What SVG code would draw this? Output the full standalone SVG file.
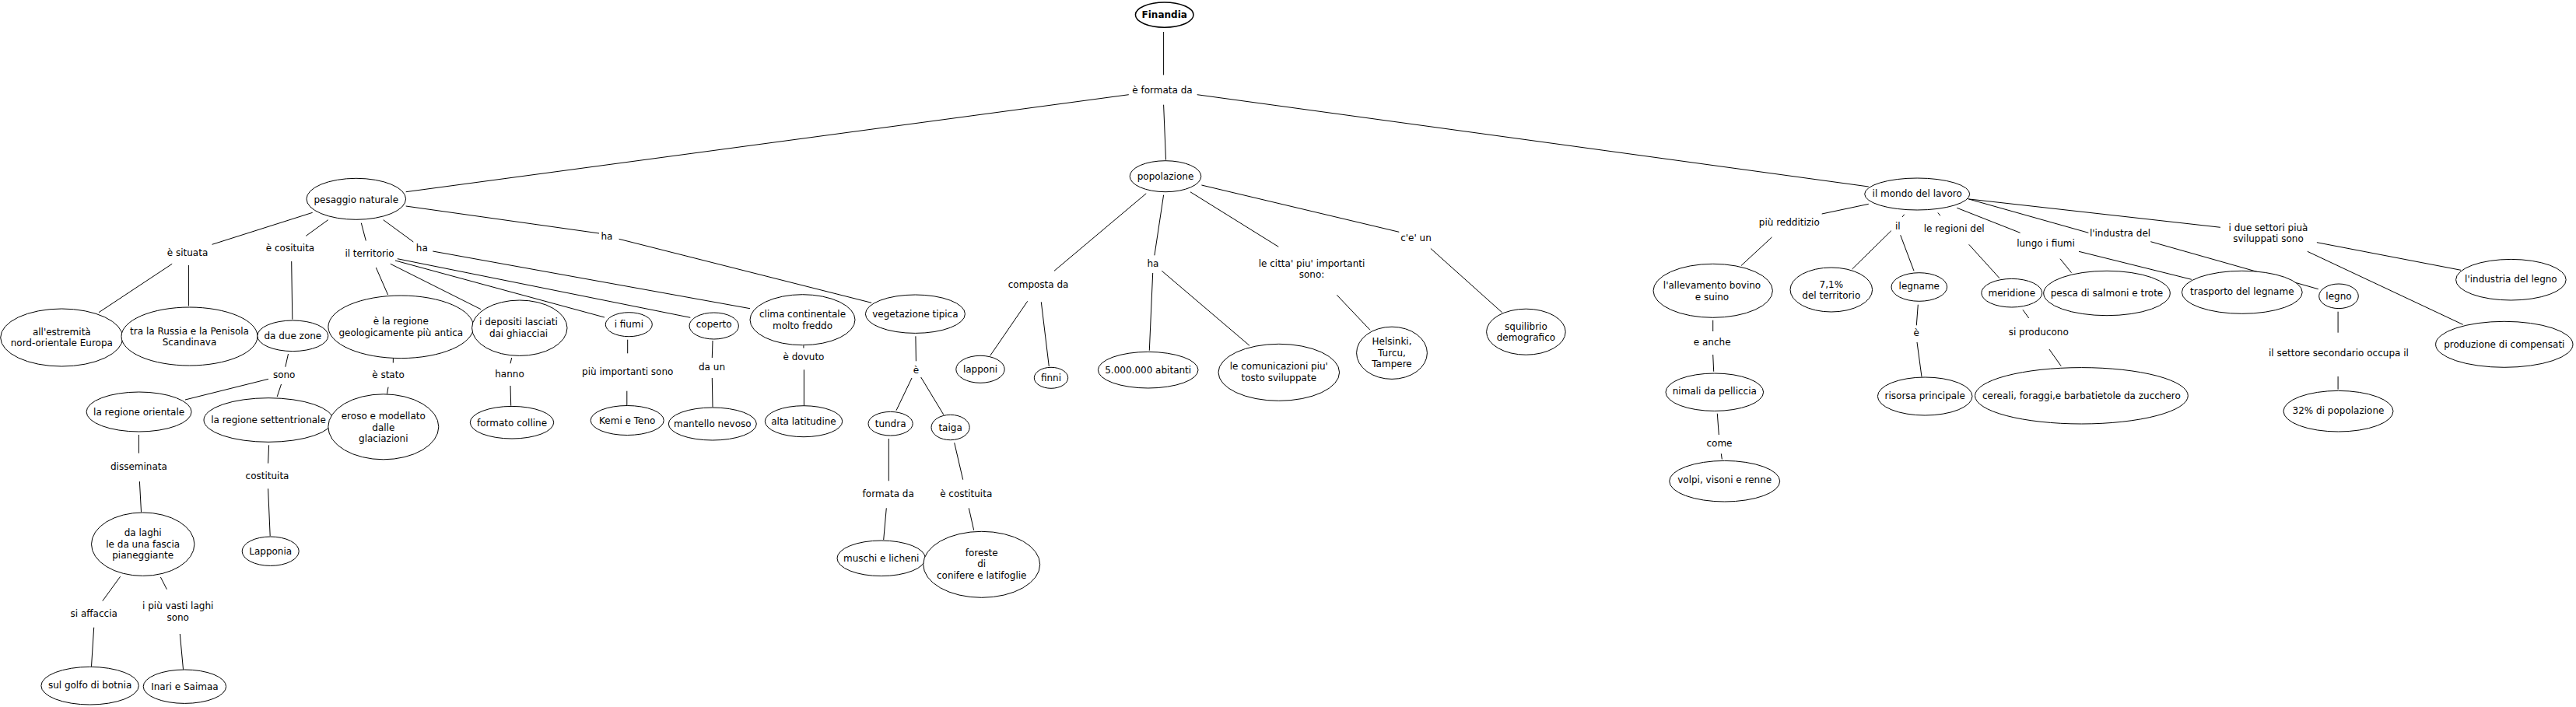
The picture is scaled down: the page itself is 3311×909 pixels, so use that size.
<svg xmlns="http://www.w3.org/2000/svg" width="3311" height="909" viewBox="0 0 3311 909">
<style>
text{font-family:"DejaVu Sans",Verdana,sans-serif;font-size:12px;fill:#000;text-anchor:middle}
.n ellipse{fill:#fff;stroke:#000;stroke-width:1}
#c line{stroke:#000;stroke-width:1;fill:none}
.b{font-weight:bold}
</style>
<rect width="3311" height="909" fill="#fff"/>
<g id="c">
<line x1="1495.6" y1="41" x2="1495.6" y2="96.4"/>
<line x1="1450.8" y1="121.7" x2="521.7" y2="246.7"/>
<line x1="1495.6" y1="134.7" x2="1498.5" y2="205.5"/>
<line x1="1538.7" y1="121.7" x2="2401.8" y2="240"/>
<line x1="401.7" y1="273.3" x2="272.6" y2="314.3"/>
<line x1="421.7" y1="282.7" x2="393.3" y2="303.3"/>
<line x1="464.3" y1="286.7" x2="470.3" y2="309.5"/>
<line x1="492.7" y1="282.7" x2="531.3" y2="311"/>
<line x1="521.7" y1="265" x2="770" y2="300"/>
<line x1="221.2" y1="339.3" x2="127" y2="401.7"/>
<line x1="242.4" y1="341" x2="242.4" y2="393.3"/>
<line x1="374.7" y1="336" x2="375.8" y2="410.7"/>
<line x1="483.3" y1="344" x2="498.6" y2="379"/>
<line x1="501.8" y1="339.3" x2="618.2" y2="397.7"/>
<line x1="508" y1="335" x2="777" y2="408"/>
<line x1="510.8" y1="332.7" x2="887.3" y2="408.3"/>
<line x1="556.3" y1="323" x2="964" y2="396.7"/>
<line x1="795.6" y1="307.3" x2="1120.2" y2="389.3"/>
<line x1="370.5" y1="455" x2="366.8" y2="471.7"/>
<line x1="345" y1="487.3" x2="238" y2="514"/>
<line x1="361.5" y1="494" x2="356.2" y2="510"/>
<line x1="505.4" y1="461" x2="505.3" y2="466.5"/>
<line x1="499" y1="497.7" x2="497.5" y2="506.7"/>
<line x1="657.7" y1="460" x2="656" y2="467.3"/>
<line x1="656" y1="496" x2="656.7" y2="521.7"/>
<line x1="806.7" y1="436.7" x2="806.7" y2="454.3"/>
<line x1="805.8" y1="502.7" x2="805.8" y2="521"/>
<line x1="916" y1="438" x2="915.3" y2="460"/>
<line x1="915.3" y1="486" x2="916" y2="523.5"/>
<line x1="1032.9" y1="444.3" x2="1032.9" y2="447.5"/>
<line x1="1033.4" y1="475.3" x2="1033.4" y2="521.5"/>
<line x1="1176.9" y1="432.3" x2="1177.4" y2="464.3"/>
<line x1="1172" y1="486" x2="1152" y2="527.7"/>
<line x1="1183.7" y1="485" x2="1212.9" y2="533.3"/>
<line x1="1142.3" y1="564" x2="1142.3" y2="618.3"/>
<line x1="1226.7" y1="569.3" x2="1237.7" y2="616.7"/>
<line x1="1139.3" y1="653.3" x2="1135.7" y2="694"/>
<line x1="1245.3" y1="653.3" x2="1251.7" y2="681.7"/>
<line x1="178.4" y1="559" x2="178.4" y2="582.7"/>
<line x1="179.4" y1="619" x2="181.5" y2="658.3"/>
<line x1="345.6" y1="572.3" x2="344.6" y2="595.7"/>
<line x1="344.6" y1="628.3" x2="347.2" y2="689.3"/>
<line x1="154.6" y1="741.3" x2="131.8" y2="772.7"/>
<line x1="206.4" y1="742" x2="214.4" y2="757.7"/>
<line x1="120.7" y1="806.7" x2="117.5" y2="856.7"/>
<line x1="231.3" y1="815" x2="235.5" y2="860.7"/>
<line x1="1473.2" y1="248.8" x2="1355" y2="348.3"/>
<line x1="1495.6" y1="250.7" x2="1483.9" y2="328.3"/>
<line x1="1530" y1="246.8" x2="1643.3" y2="317.3"/>
<line x1="1544.4" y1="238" x2="1798.3" y2="298.3"/>
<line x1="1320.7" y1="387.3" x2="1272.7" y2="457.3"/>
<line x1="1338.3" y1="388.3" x2="1348.3" y2="471"/>
<line x1="1481.7" y1="351" x2="1477.3" y2="450.7"/>
<line x1="1493.3" y1="348.3" x2="1606" y2="444.3"/>
<line x1="1718.3" y1="379.3" x2="1761" y2="424.3"/>
<line x1="1838.9" y1="319.5" x2="1930.7" y2="401.8"/>
<line x1="2401.8" y1="262.3" x2="2341.7" y2="275"/>
<line x1="2277.4" y1="305" x2="2238" y2="341.5"/>
<line x1="2447.7" y1="275.7" x2="2445" y2="279"/>
<line x1="2430.8" y1="296.7" x2="2380.6" y2="346"/>
<line x1="2442.7" y1="302.3" x2="2460" y2="348.3"/>
<line x1="2490.9" y1="273.5" x2="2493.8" y2="277.3"/>
<line x1="2530.7" y1="314.3" x2="2570" y2="357.7"/>
<line x1="2515.3" y1="267.3" x2="2596.6" y2="299.3"/>
<line x1="2648" y1="332.7" x2="2662.5" y2="350.7"/>
<line x1="2672" y1="323.3" x2="2816.9" y2="359.3"/>
<line x1="2527" y1="255" x2="2684.4" y2="299.3"/>
<line x1="2764.3" y1="310.7" x2="2979.8" y2="371.7"/>
<line x1="2531.1" y1="256" x2="2853.9" y2="292.3"/>
<line x1="2977.9" y1="311.7" x2="3163" y2="347.3"/>
<line x1="2965.8" y1="323.3" x2="3165.7" y2="417.3"/>
<line x1="3005.1" y1="400.7" x2="3005.1" y2="427.7"/>
<line x1="3005.1" y1="484" x2="3005.1" y2="500.7"/>
<line x1="2201.7" y1="411.7" x2="2201.7" y2="426"/>
<line x1="2201.7" y1="456" x2="2202.7" y2="477.7"/>
<line x1="2207.3" y1="531.7" x2="2209.3" y2="559"/>
<line x1="2212.3" y1="583.3" x2="2213.3" y2="590.5"/>
<line x1="2465.3" y1="391.7" x2="2463.3" y2="418.3"/>
<line x1="2464" y1="440" x2="2470" y2="484.5"/>
<line x1="2600" y1="398.3" x2="2607.7" y2="409"/>
<line x1="2633.9" y1="449" x2="2649.2" y2="470.7"/>
</g>
<g id="finandia" class="n"><ellipse cx="1496.7" cy="19.1" rx="37.3" ry="16.1" style="stroke-width:1.5"/><text class="b" x="1496.7" y="23.3">Finandia</text></g>
<g id="pesaggio" class="n"><ellipse cx="457.8" cy="255.8" rx="63.8" ry="26.5"/><text x="457.8" y="260.7">pesaggio naturale</text></g>
<g id="estremita" class="n"><ellipse cx="79.3" cy="434" rx="78.6" ry="37"/><text x="79.3" y="430.7">all'estremità</text><text x="79.3" y="444.7">nord-orientale Europa</text></g>
<g id="russia" class="n"><ellipse cx="243.5" cy="432.5" rx="87.5" ry="37.5"/><text x="243.5" y="430">tra la Russia e la Penisola</text><text x="243.5" y="444">Scandinava</text></g>
<g id="duezone" class="n"><ellipse cx="376.3" cy="431.8" rx="45.5" ry="19.8"/><text x="376.3" y="435.8">da due zone</text></g>
<g id="regioneantica" class="n"><ellipse cx="515.3" cy="420.3" rx="93.4" ry="40.3"/><text x="515.3" y="417.3">è la regione</text><text x="515.3" y="432.3">geologicamente più antica</text></g>
<g id="depositi" class="n"><ellipse cx="667.8" cy="421.7" rx="61.2" ry="35.7"/><text x="666.5" y="418.3">i depositi lasciati</text><text x="666.5" y="433.3">dai ghiacciai</text></g>
<g id="fiumi" class="n"><ellipse cx="808.3" cy="417.2" rx="30" ry="15.5"/><text x="808.3" y="420.7">i fiumi</text></g>
<g id="coperto" class="n"><ellipse cx="917.7" cy="419" rx="31.7" ry="17"/><text x="917.7" y="421">coperto</text></g>
<g id="clima" class="n"><ellipse cx="1031.5" cy="411.2" rx="67.5" ry="32.5"/><text x="1031.5" y="408.3">clima continentale</text><text x="1031.5" y="423">molto freddo</text></g>
<g id="vegetazione" class="n"><ellipse cx="1176.4" cy="403.7" rx="64" ry="24.7"/><text x="1176.4" y="407.7">vegetazione tipica</text></g>
<g id="orientale" class="n"><ellipse cx="178.6" cy="529.5" rx="67.5" ry="25.5"/><text x="178.6" y="533.5">la regione orientale</text></g>
<g id="settentrionale" class="n"><ellipse cx="345" cy="540" rx="83" ry="28.3"/><text x="345" y="544">la regione settentrionale</text></g>
<g id="eroso" class="n"><ellipse cx="492.8" cy="548.8" rx="71" ry="42"/><text x="492.8" y="539">eroso e modellato</text><text x="492.8" y="554">dalle</text><text x="492.8" y="568.3">glaciazioni</text></g>
<g id="colline" class="n"><ellipse cx="658" cy="543.2" rx="53.7" ry="20.8"/><text x="658" y="547.5">formato colline</text></g>
<g id="kemi" class="n"><ellipse cx="806.2" cy="540.5" rx="47" ry="19"/><text x="806.2" y="545.3">Kemi e Teno</text></g>
<g id="mantello" class="n"><ellipse cx="915.8" cy="545" rx="56.5" ry="21"/><text x="915.8" y="548.7">mantello nevoso</text></g>
<g id="latitudine" class="n"><ellipse cx="1033" cy="541.7" rx="49.7" ry="20"/><text x="1033" y="545.7">alta latitudine</text></g>
<g id="tundra" class="n"><ellipse cx="1144.6" cy="544.7" rx="28.6" ry="15.3"/><text x="1144.6" y="548.8">tundra</text></g>
<g id="taiga" class="n"><ellipse cx="1221.6" cy="549.5" rx="24.6" ry="16.2"/><text x="1221.6" y="553.5">taiga</text></g>
<g id="laghi" class="n"><ellipse cx="183.7" cy="699.7" rx="66.2" ry="40.7"/><text x="183.7" y="689.3">da laghi</text><text x="183.7" y="704">le da una fascia</text><text x="183.7" y="718">pianeggiante</text></g>
<g id="lapponia" class="n"><ellipse cx="347.7" cy="708.7" rx="36.5" ry="18.7"/><text x="347.7" y="712.5">Lapponia</text></g>
<g id="botnia" class="n"><ellipse cx="115.6" cy="881.7" rx="62.7" ry="24.3"/><text x="115.6" y="885.2">sul golfo di botnia</text></g>
<g id="inari" class="n"><ellipse cx="237.4" cy="882.7" rx="53.2" ry="21.7"/><text x="237.4" y="886.7">Inari e Saimaa</text></g>
<g id="muschi" class="n"><ellipse cx="1132.7" cy="717.8" rx="56.7" ry="22.8"/><text x="1132.7" y="721.8">muschi e licheni</text></g>
<g id="foreste" class="n"><ellipse cx="1261.7" cy="725.8" rx="75" ry="42.5"/><text x="1261.7" y="715">foreste</text><text x="1261.7" y="729.3">di</text><text x="1261.7" y="744">conifere e latifoglie</text></g>
<g id="popolazione" class="n"><ellipse cx="1498" cy="226.7" rx="45.8" ry="20"/><text x="1498" y="230.7">popolazione</text></g>
<g id="lapponi" class="n"><ellipse cx="1260" cy="474.8" rx="31.2" ry="17.5"/><text x="1260" y="478.5">lapponi</text></g>
<g id="finni" class="n"><ellipse cx="1351" cy="485.8" rx="21.7" ry="13.5"/><text x="1351" y="489.8">finni</text></g>
<g id="abitanti" class="n"><ellipse cx="1475.7" cy="475.7" rx="64.3" ry="23.3"/><text x="1475.7" y="480">5.000.000 abitanti</text></g>
<g id="comunicazioni" class="n"><ellipse cx="1643.8" cy="478.8" rx="77.8" ry="36.5"/><text x="1643.8" y="475">le comunicazioni piu'</text><text x="1643.8" y="489.7">tosto sviluppate</text></g>
<g id="helsinki" class="n"><ellipse cx="1789" cy="453.8" rx="45.4" ry="33.6"/><text x="1789" y="443">Helsinki,</text><text x="1789" y="457.5">Turcu,</text><text x="1789" y="472">Tampere</text></g>
<g id="squilibrio" class="n"><ellipse cx="1961.4" cy="426.7" rx="50.8" ry="29.5"/><text x="1961.4" y="423.8">squilibrio</text><text x="1961.4" y="437.6">demografico</text></g>
<g id="mondo" class="n"><ellipse cx="2464.2" cy="249.5" rx="67.5" ry="20.5"/><text x="2464.2" y="252.5">il mondo del lavoro</text></g>
<g id="allevamento" class="n"><ellipse cx="2201.7" cy="373.8" rx="76.7" ry="34.5"/><text x="2200.5" y="370.7">l'allevamento bovino</text><text x="2200.5" y="385.7">e suino</text></g>
<g id="territorio71" class="n"><ellipse cx="2353.8" cy="372.5" rx="52.8" ry="28.5"/><text x="2353.8" y="370">7,1%</text><text x="2353.8" y="384">del territorio</text></g>
<g id="legname" class="n"><ellipse cx="2466.8" cy="369" rx="35.8" ry="18.3"/><text x="2466.8" y="371.7">legname</text></g>
<g id="meridione" class="n"><ellipse cx="2585.8" cy="376.7" rx="39" ry="18.3"/><text x="2585.8" y="380.7">meridione</text></g>
<g id="pesca" class="n"><ellipse cx="2708" cy="377" rx="81.3" ry="28.7"/><text x="2708" y="380.7">pesca di salmoni e trote</text></g>
<g id="trasporto" class="n"><ellipse cx="2881.8" cy="375.8" rx="77.4" ry="27.5"/><text x="2881.8" y="379.3">trasporto del legname</text></g>
<g id="legno" class="n"><ellipse cx="3006" cy="380.8" rx="25.3" ry="15.8"/><text x="3006" y="384.5">legno</text></g>
<g id="industrialegno" class="n"><ellipse cx="3227.4" cy="359.7" rx="70.8" ry="26.3"/><text x="3227.4" y="363.3">l'industria del legno</text></g>
<g id="compensati" class="n"><ellipse cx="3218.8" cy="442.8" rx="88.2" ry="29.5"/><text x="3218.8" y="446.5">produzione di compensati</text></g>
<g id="pelliccia" class="n"><ellipse cx="2203.8" cy="504.2" rx="62.8" ry="24.2"/><text x="2203.8" y="506.8">nimali da pelliccia</text></g>
<g id="volpi" class="n"><ellipse cx="2216.7" cy="618.7" rx="71" ry="26.3"/><text x="2216.7" y="621.3">volpi, visoni e renne</text></g>
<g id="risorsa" class="n"><ellipse cx="2474.2" cy="509.5" rx="60.8" ry="24.5"/><text x="2474.2" y="513">risorsa principale</text></g>
<g id="cereali" class="n"><ellipse cx="2675.4" cy="508.8" rx="136.9" ry="36.2"/><text x="2675.4" y="512.5">cereali, foraggi,e barbatietole da zucchero</text></g>
<g id="popolazione32" class="n"><ellipse cx="3005.5" cy="528.7" rx="70.5" ry="26.3"/><text x="3005.5" y="531.8">32% di popolazione</text></g>
<g id="l-formata"><text x="1494" y="120">è formata da</text></g>
<g id="l-situata"><text x="241" y="329">è situata</text></g>
<g id="l-cosituita"><text x="373" y="322.7">è cosituita</text></g>
<g id="l-territorio"><text x="475" y="329.7">il territorio</text></g>
<g id="l-ha1"><text x="542.3" y="323">ha</text></g>
<g id="l-ha2"><text x="780" y="308">ha</text></g>
<g id="l-sono"><text x="365.2" y="485.7">sono</text></g>
<g id="l-stato"><text x="499" y="485.7">è stato</text></g>
<g id="l-hanno"><text x="655" y="485">hanno</text></g>
<g id="l-importanti"><text x="806.7" y="482.3">più importanti sono</text></g>
<g id="l-daun"><text x="915" y="476.3">da un</text></g>
<g id="l-dovuto"><text x="1033" y="463">è dovuto</text></g>
<g id="l-e1"><text x="1177.4" y="480">è</text></g>
<g id="l-formatada"><text x="1141.7" y="639">formata da</text></g>
<g id="l-costituita2"><text x="1241.7" y="639">è costituita</text></g>
<g id="l-disseminata"><text x="178.4" y="604">disseminata</text></g>
<g id="l-costituita"><text x="343.5" y="615.7">costituita</text></g>
<g id="l-affaccia"><text x="120.7" y="793">si affaccia</text></g>
<g id="l-vasti"><text x="228.7" y="783">i più vasti laghi</text><text x="228.7" y="797.7">sono</text></g>
<g id="l-composta"><text x="1334.6" y="370">composta da</text></g>
<g id="l-ha3"><text x="1482" y="343">ha</text></g>
<g id="l-citta"><text x="1686" y="343.3">le citta' piu' importanti</text><text x="1686" y="357.3">sono:</text></g>
<g id="l-ceun"><text x="1820" y="310">c'e' un</text></g>
<g id="l-redditizio"><text x="2299.8" y="289.7">più redditizio</text></g>
<g id="l-il"><text x="2439.3" y="295">il</text></g>
<g id="l-regioni"><text x="2511.7" y="298">le regioni del</text></g>
<g id="l-lungo"><text x="2629.5" y="316.7">lungo i fiumi</text></g>
<g id="l-industra"><text x="2725" y="304">l'industra del</text></g>
<g id="l-settori"><text x="2915.5" y="296.7">i due settori piuà</text><text x="2915.5" y="311.3">sviluppati sono</text></g>
<g id="l-eanche"><text x="2200.7" y="444">e anche</text></g>
<g id="l-come"><text x="2210" y="574">come</text></g>
<g id="l-e2"><text x="2463.3" y="432.3">è</text></g>
<g id="l-producono"><text x="2620.2" y="431.3">si producono</text></g>
<g id="l-secondario"><text x="3005.9" y="458">il settore secondario occupa il</text></g>
</svg>
